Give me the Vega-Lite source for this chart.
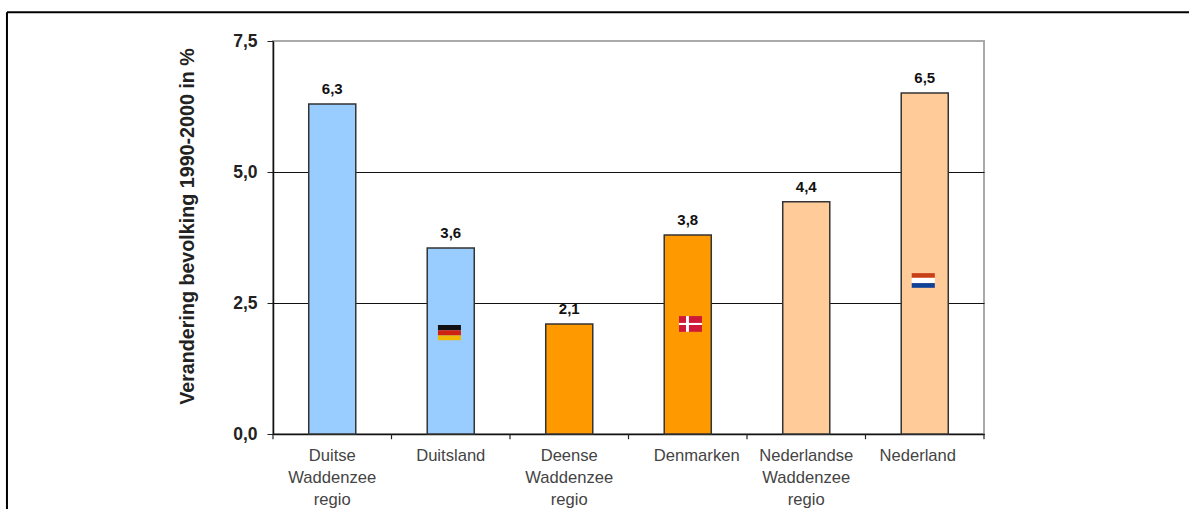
{
"$schema":"https://vega.github.io/schema/vega-lite/v6.json",
"width":711,"height":393,"autosize":"none",
"padding":{"left":273,"top":41,"right":205,"bottom":75},
"background":"white",
"config":{"font":"Liberation Sans","view":{"stroke":"#aaaaaa","strokeWidth":2}},
"layer":[
{"data":{"values":[
{"gebied":"Duitse|Waddenzee|regio","waarde":6.3,"label":"6,3","groep":"Duits"},
{"gebied":"Duitsland","waarde":3.55,"label":"3,6","groep":"Duits"},
{"gebied":"Deense|Waddenzee|regio","waarde":2.1,"label":"2,1","groep":"Deens"},
{"gebied":"Denmarken","waarde":3.8,"label":"3,8","groep":"Deens"},
{"gebied":"Nederlandse|Waddenzee|regio","waarde":4.43,"label":"4,4","groep":"Nederlands"},
{"gebied":"Nederland","waarde":6.51,"label":"6,5","groep":"Nederlands"}
]},
"encoding":{"x":{"field":"gebied","type":"nominal","sort":null,"title":null,
"scale":{"paddingInner":0.603,"paddingOuter":0.3015},
"axis":{"labelAngle":0,"ticks":false,"domainColor":"#111111","domainWidth":1.5,"labelFontSize":16.6,"labelColor":"#444444","labelPadding":13.5,"labelLineHeight":22,"labelBaseline":"top","labelLimit":200,"labelExpr":"split(datum.label,'|')",
"labelOffset":{"condition":[{"test":"datum.label=='Denmarken'","value":9},{"test":"datum.label=='Nederland'","value":-7}],"value":0}}}},
"layer":[
{"mark":{"type":"bar","stroke":"#333333","strokeWidth":1.5},
"encoding":{
"y":{"field":"waarde","type":"quantitative","scale":{"domain":[0,7.5],"nice":false,"zero":true},
"title":"Verandering bevolking 1990-2000 in %",
"axis":{"values":[0,2.5,5,7.5],"labelExpr":"replace(format(datum.value,'.1f'),'.',',')","labelFontSize":17.5,"labelFontWeight":"bold","labelColor":"#222222","labelPadding":10,"tickSize":6,"tickColor":"#222222","domainColor":"#111111","domainWidth":1.5,"grid":true,"gridColor":{"condition":{"test":"datum.value==7.5","value":"#aaaaaa"},"value":"#111111"},"gridWidth":1.2,"titleFontSize":19.7,"titleFontWeight":"bold","titleColor":"#222222","titlePadding":35,"titleY":185}},
"color":{"field":"groep","type":"nominal","legend":null,"scale":{"domain":["Duits","Deens","Nederlands","zwart","rood","geel","wit","dk","nl-rood","nl-blauw"],"range":["#99ccff","#ff9900","#ffcc99","#111111","#d02010","#f0b800","#ffffff","#d01838","#c84018","#104098"]}}
}},
{"mark":{"type":"text","baseline":"bottom","dy":-7,"fontSize":15,"fontWeight":"bold","color":"#111111"},
"encoding":{"y":{"field":"waarde","type":"quantitative"},"text":{"field":"label"}}}
]},
{"layer":[
{"data":{"values":[
{"a":1.392,"b":1.586,"o":2.08,"t":1.98,"c":"zwart"},
{"a":1.392,"b":1.586,"o":1.98,"t":1.88,"c":"rood"},
{"a":1.392,"b":1.586,"o":1.88,"t":1.79,"c":"geel"},
{"a":3.426,"b":3.62,"o":1.95,"t":2.25,"c":"dk"},
{"a":3.426,"b":3.62,"o":2.08,"t":2.12,"c":"wit"},
{"a":3.485,"b":3.51,"o":1.95,"t":2.25,"c":"wit"},
{"a":5.39,"b":5.585,"o":3.07,"t":2.98,"c":"nl-rood"},
{"a":5.39,"b":5.585,"o":2.98,"t":2.88,"c":"wit"},
{"a":5.39,"b":5.585,"o":2.88,"t":2.79,"c":"nl-blauw"}
]},
"mark":{"type":"rect"},
"encoding":{
"x":{"field":"a","type":"quantitative","scale":{"domain":[0,6],"nice":false,"zero":false},"axis":null},
"x2":{"field":"b"},
"y":{"field":"o","type":"quantitative"},
"y2":{"field":"t"},
"color":{"field":"c","type":"nominal","legend":null}
}},
{"data":{"values":[{"a":0,"o":0,"t":-0.1},{"a":1,"o":0,"t":-0.1},{"a":2,"o":0,"t":-0.1},{"a":3,"o":0,"t":-0.1},{"a":4,"o":0,"t":-0.1},{"a":5,"o":0,"t":-0.1},{"a":6,"o":0,"t":-0.1}]},
"mark":{"type":"rule","color":"#222222","strokeWidth":1.2},
"encoding":{"x":{"field":"a","type":"quantitative","axis":null},"y":{"field":"o","type":"quantitative"},"y2":{"field":"t"}}},
{"data":{"values":[{"a":-2.245,"b":7.73,"o":8.05}]},
"mark":{"type":"rule","color":"#000000","strokeWidth":2,"clip":false},
"encoding":{"x":{"field":"a","type":"quantitative","axis":null},"x2":{"field":"b"},"y":{"field":"o","type":"quantitative"}}},
{"data":{"values":[{"a":-2.245,"o":8.05,"t":-1.43}]},
"mark":{"type":"rule","color":"#000000","strokeWidth":2,"clip":false},
"encoding":{"x":{"field":"a","type":"quantitative","axis":null},"y":{"field":"o","type":"quantitative"},"y2":{"field":"t"}}}
]}
],
"resolve":{"scale":{"x":"independent"}}
}
